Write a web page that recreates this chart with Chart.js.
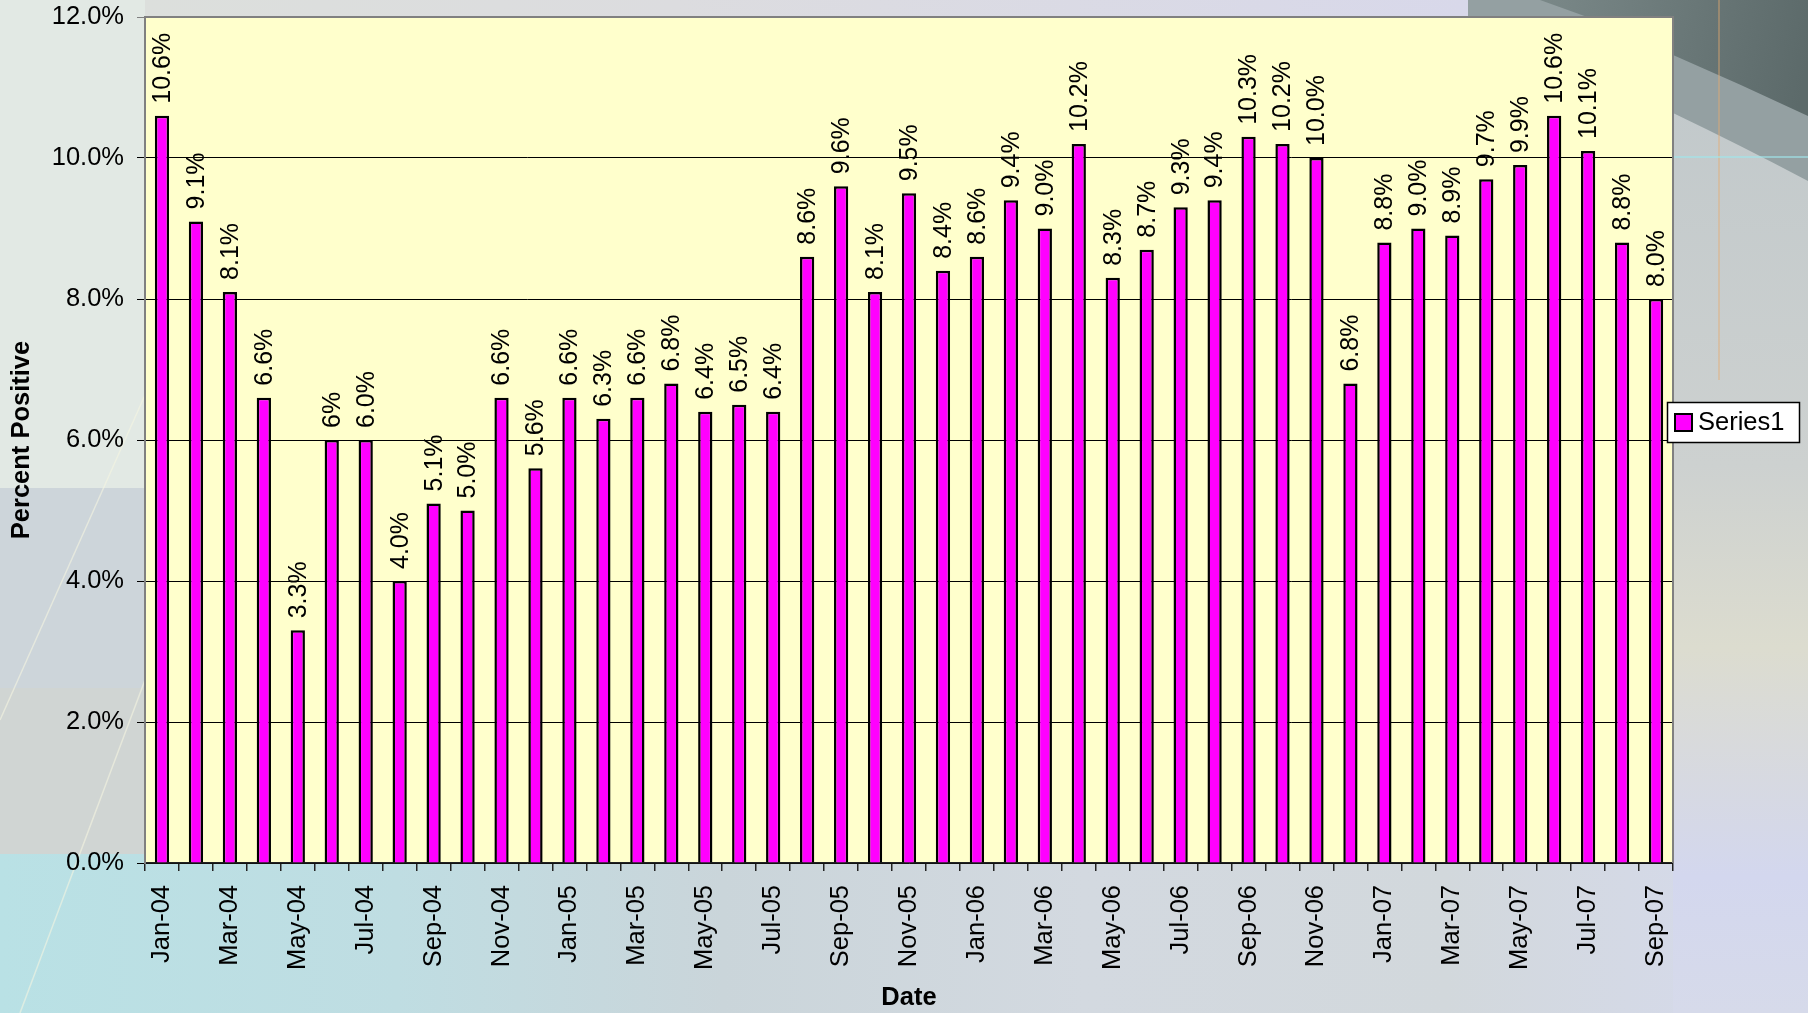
<!DOCTYPE html>
<html><head><meta charset="utf-8">
<script src="https://cdn.jsdelivr.net/npm/chart.js@4"></script>
<style>
html,body{margin:0;padding:0;overflow:hidden;background:#d6dbe0}
canvas{display:block}
</style></head>
<body>
<canvas id="c" width="1808" height="1013"></canvas>
<script>
const categories = ['Jan-04','Feb-04','Mar-04','Apr-04','May-04','Jun-04','Jul-04','Aug-04','Sep-04','Oct-04','Nov-04','Dec-04',
'Jan-05','Feb-05','Mar-05','Apr-05','May-05','Jun-05','Jul-05','Aug-05','Sep-05','Oct-05','Nov-05','Dec-05',
'Jan-06','Feb-06','Mar-06','Apr-06','May-06','Jun-06','Jul-06','Aug-06','Sep-06','Oct-06','Nov-06','Dec-06',
'Jan-07','Feb-07','Mar-07','Apr-07','May-07','Jun-07','Jul-07','Aug-07','Sep-07'];
const values = [10.6,9.1,8.1,6.6,3.3,6.0,6.0,4.0,5.1,5.0,6.6,5.6,
6.6,6.3,6.6,6.8,6.4,6.5,6.4,8.6,9.6,8.1,9.5,8.4,
8.6,9.4,9.0,10.2,8.3,8.7,9.3,9.4,10.3,10.2,10.0,6.8,
8.8,9.0,8.9,9.7,9.9,10.6,10.1,8.8,8.0];
const valueLabels = ['10.6%','9.1%','8.1%','6.6%','3.3%','6%','6.0%','4.0%','5.1%','5.0%','6.6%','5.6%',
'6.6%','6.3%','6.6%','6.8%','6.4%','6.5%','6.4%','8.6%','9.6%','8.1%','9.5%','8.4%',
'8.6%','9.4%','9.0%','10.2%','8.3%','8.7%','9.3%','9.4%','10.3%','10.2%','10.0%','6.8%',
'8.8%','9.0%','8.9%','9.7%','9.9%','10.6%','10.1%','8.8%','8.0%'];
const yTickValues = [0,2,4,6,8,10,12];
const yTickLabels = ['0.0%','2.0%','4.0%','6.0%','8.0%','10.0%','12.0%'];
const seriesName = 'Series1';
const xTitle = 'Date';
const yTitle = 'Percent Positive';

const FONT = "'Liberation Sans', Arial, sans-serif";
const FS = 25.5;
const FS_LABEL = 25;

function drawBackground(ctx, W, H) {
  let g = ctx.createLinearGradient(0, 0, W, 0);
  g.addColorStop(0, '#e2e9e4');
  g.addColorStop(0.4, '#dcdfe2');
  g.addColorStop(0.8, '#d8d9e8');
  g.addColorStop(1, '#cfd5d8');
  ctx.fillStyle = g; ctx.fillRect(0, 0, W, H);
  ctx.fillStyle = '#e2e9e4'; ctx.fillRect(0, 0, 145, 488);
  ctx.fillStyle = '#cdd5da'; ctx.fillRect(0, 488, 145, 200);
  ctx.fillStyle = '#d0d5d3'; ctx.fillRect(0, 688, 145, 166);
  g = ctx.createLinearGradient(145, 0, 1470, 0);
  g.addColorStop(0, '#dcdfdc'); g.addColorStop(0.4, '#dcdcdf'); g.addColorStop(1, '#d8d8ea');
  ctx.fillStyle = g; ctx.fillRect(145, 0, 1325, 18);
  ctx.fillStyle = '#aab4ba'; ctx.fillRect(1468, 0, 340, 18);
  g = ctx.createLinearGradient(0, 0, W, 0);
  g.addColorStop(0, '#b9e1e5'); g.addColorStop(0.22, '#bfdde2'); g.addColorStop(0.4, '#cad5da');
  g.addColorStop(0.6, '#d3d9e0'); g.addColorStop(0.8, '#d2d8dc'); g.addColorStop(1, '#d6daee');
  ctx.fillStyle = g; ctx.fillRect(0, 854, W, H - 854);
  g = ctx.createLinearGradient(0, 100, 0, H);
  g.addColorStop(0, '#c2c9cb'); g.addColorStop(0.4, '#cdd1d0'); g.addColorStop(0.6, '#dcdccf');
  g.addColorStop(0.85, '#d3d7ee'); g.addColorStop(1, '#d6daea');
  ctx.fillStyle = g; ctx.fillRect(1673, 0, W - 1673, H);
  ctx.fillStyle = '#94a0a2';
  ctx.beginPath(); ctx.moveTo(1468, 0); ctx.lineTo(W, 0); ctx.lineTo(W, 181);
  ctx.quadraticCurveTo(1740, 145, 1673, 113); ctx.lineTo(1673, 18); ctx.lineTo(1468, 18); ctx.closePath(); ctx.fill();
  g = ctx.createLinearGradient(1500, 0, 1808, 60);
  g.addColorStop(0, '#7e8c8c'); g.addColorStop(1, '#5c6a6a');
  ctx.fillStyle = g;
  ctx.beginPath(); ctx.moveTo(1540, 0); ctx.lineTo(W, 0); ctx.lineTo(W, 116);
  ctx.quadraticCurveTo(1740, 84, 1673, 55); ctx.lineTo(1673, 18); ctx.lineTo(1590, 18); ctx.closePath(); ctx.fill();
  ctx.strokeStyle = 'rgba(230,170,110,0.4)'; ctx.lineWidth = 2;
  ctx.beginPath(); ctx.moveTo(1719, 0); ctx.lineTo(1719, 380); ctx.stroke();
  ctx.strokeStyle = 'rgba(160,230,235,0.6)'; ctx.lineWidth = 2;
  ctx.beginPath(); ctx.moveTo(1673, 157); ctx.lineTo(W, 157); ctx.stroke();
  ctx.strokeStyle = 'rgba(245,245,225,0.6)'; ctx.lineWidth = 1.5;
  ctx.beginPath(); ctx.moveTo(145, 395); ctx.lineTo(0, 720); ctx.stroke();
  ctx.beginPath(); ctx.moveTo(145, 680); ctx.lineTo(20, 1013); ctx.stroke();
}

const bgPlugin = {
  id: 'bg',
  beforeDraw(chart) {
    const ctx = chart.ctx, a = chart.chartArea;
    ctx.save();
    drawBackground(ctx, chart.width, chart.height);
    ctx.fillStyle = '#ffffcc';
    ctx.fillRect(a.left, a.top, a.right - a.left, a.bottom - a.top);
    ctx.restore();
  },
  afterDraw(chart) {
    const ctx = chart.ctx, a = chart.chartArea;
    ctx.save();
    ctx.strokeStyle = '#808080'; ctx.lineWidth = 2;
    ctx.beginPath(); ctx.moveTo(a.left, a.top); ctx.lineTo(a.right, a.top); ctx.lineTo(a.right, a.bottom); ctx.stroke();
    const lx = 1667, ly = 402, lw = 132, lh = 40;
    ctx.fillStyle = '#ffffff'; ctx.fillRect(lx, ly, lw, lh);
    ctx.strokeStyle = '#000'; ctx.lineWidth = 1.5; ctx.strokeRect(lx + 0.5, ly + 0.5, lw, lh);
    ctx.fillStyle = '#ff00ff'; ctx.fillRect(1675, 414, 17, 17);
    ctx.strokeStyle = '#000'; ctx.lineWidth = 2; ctx.strokeRect(1675, 414, 17, 17);
    ctx.fillStyle = '#000'; ctx.font = FS + 'px ' + FONT;
    ctx.textAlign = 'left'; ctx.textBaseline = 'middle';
    ctx.fillText(seriesName, 1698, 423);
    ctx.restore();
  }
};

const labelPlugin = {
  id: 'vlabels',
  afterDatasetsDraw(chart) {
    const ctx = chart.ctx;
    const meta = chart.getDatasetMeta(0);
    ctx.save();
    ctx.fillStyle = '#000'; ctx.font = FS_LABEL + 'px ' + FONT;
    ctx.textAlign = 'left'; ctx.textBaseline = 'middle';
    meta.data.forEach((bar, i) => {
      ctx.save();
      ctx.translate(bar.x + 1, bar.y - 12);
      ctx.rotate(-Math.PI / 2);
      ctx.fillText(valueLabels[i], 0, 0);
      ctx.restore();
    });
    ctx.restore();
  }
};

new Chart(document.getElementById('c'), {
  type: 'bar',
  data: {
    labels: categories,
    datasets: [{
      label: seriesName, data: values,
      backgroundColor: '#ff00ff', borderColor: '#000000', borderWidth: 2.5,
      barPercentage: 0.42, categoryPercentage: 1.0
    }]
  },
  options: {
    responsive: false, animation: false, devicePixelRatio: 1,
    layout: { padding: { top: 17, right: 135, left: 0, bottom: 0 } },
    plugins: { legend: { display: false }, tooltip: { enabled: false } },
    scales: {
      x: {
        offset: true,
        grid: { offset: true, drawOnChartArea: false, drawTicks: true, tickLength: 8, color: '#222', lineWidth: 1.5 },
        border: { display: true, color: '#222', width: 1.5 },
        ticks: {
          autoSkip: false, maxRotation: 90, minRotation: 90, padding: 14, color: '#000',
          font: { family: FONT, size: FS },
          callback: (v, i) => (i % 2 === 0 ? categories[i] : '')
        },
        title: { display: true, text: xTitle, color: '#000', font: { family: FONT, size: FS, weight: 'bold' }, padding: { top: 0, bottom: 0 } },
        afterFit: (s) => { s.height = 150; }
      },
      y: {
        min: 0, max: 12,
        afterBuildTicks: (s) => { s.ticks = yTickValues.map(v => ({ value: v })); },
        ticks: {
          padding: 13, color: '#000', font: { family: FONT, size: FS, lineHeight: 0.1 },
          callback: (v) => yTickLabels[yTickValues.indexOf(v)]
        },
        grid: {
          color: (c) => (c.tick && c.tick.value === 12 ? '#808080' : '#000'),
          lineWidth: 1, tickLength: 8, drawTicks: true
        },
        border: { display: true, color: '#808080', width: 2 },
        title: { display: true, text: yTitle, color: '#000', font: { family: FONT, size: FS, weight: 'bold' }, padding: { top: 7, bottom: 0 } },
        afterFit: (s) => { s.width = 145; }
      }
    }
  },
  plugins: [bgPlugin, labelPlugin]
});
</script>
</body></html>
